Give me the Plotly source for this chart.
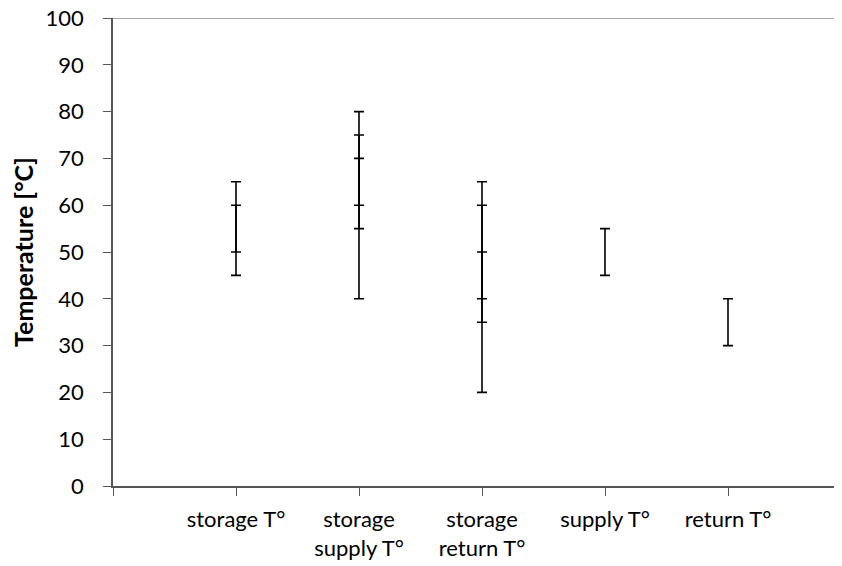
import plotly.graph_objects as go

categories = ["storage T°", "storage<br>supply T°", "storage<br>return T°", "supply T°", "return T°"]

# temperature ranges (low/high) per series
range_a_low = [50, 55, 40, 45, 30]
range_a_high = [65, 80, 65, 55, 40]
range_b_low = [45, 40, 20, None, None]
range_b_high = [60, 75, 60, None, None]
range_c_low = [None, 60, 35, None, None]
range_c_high = [None, 70, 50, None, None]

y_ticks = list(range(0, 101, 10))

FONT = "Lato"

fig = go.Figure()

for lows, highs in [(range_a_low, range_a_high), (range_b_low, range_b_high), (range_c_low, range_c_high)]:
    xs, mids, half = [], [], []
    for i, (lo, hi) in enumerate(zip(lows, highs)):
        if lo is None:
            continue
        xs.append(i + 1)
        mids.append((lo + hi) / 2)
        half.append((hi - lo) / 2)
    fig.add_trace(go.Scatter(
        x=xs, y=mids, mode="markers",
        marker=dict(size=1, opacity=0),
        error_y=dict(type="data", array=half, symmetric=True,
                     color="black", thickness=1.6, width=5),
        showlegend=False, hoverinfo="skip",
    ))

fig.add_shape(type="line", xref="paper", yref="y", x0=0, x1=1, y0=100, y1=100,
              line=dict(color="#8c8c8c", width=1.5), layer="below")

# page body has an 8px margin; compensate so the plot lands where it should
fig.update_layout(
    width=834, height=558,
    margin=dict(l=105, r=0, t=10, b=80, autoexpand=False),
    plot_bgcolor="white", paper_bgcolor="white",
    font=dict(family=FONT, size=22, color="black"),
    showlegend=False,
)

fig.update_xaxes(
    range=[0, 729 / 123],
    tickvals=[0, 1, 2, 3, 4, 5],
    ticktext=[""] + categories,
    ticks="outside", ticklen=8, tickcolor="#555", tickwidth=1,
    showline=True, linecolor="#555", linewidth=1.5,
    showgrid=False, zeroline=False,
    tickfont=dict(family=FONT, size=22, color="black"),
    ticklabelstandoff=5,
    ticklabeloverflow="allow",
)

fig.update_yaxes(
    range=[0, 100],
    tickvals=y_ticks,
    ticks="outside", ticklen=8, tickcolor="#555", tickwidth=1,
    showline=True, linecolor="#555", linewidth=1.5,
    showgrid=False, zeroline=False,
    tickfont=dict(family=FONT, size=22, color="black"),
    ticklabelstandoff=15,
    ticklabeloverflow="allow",
    title=dict(text="<b>Temperature [°C]</b>", font=dict(family=FONT, size=25, color="black"), standoff=10),
)

fig.write_html("out.html")
